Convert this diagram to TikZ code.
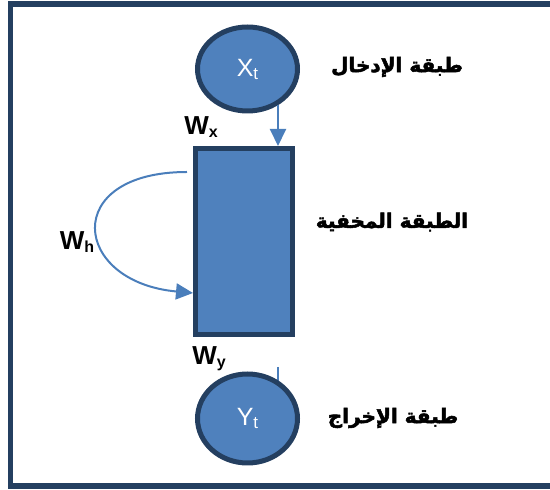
\documentclass[tikz,border=0pt]{standalone}
\usepackage{fontspec}
\setmainfont{Liberation Sans}
\newfontfamily\arabicfont[Script=Arabic,BoldFeatures={FakeBold=2.5}]{DejaVu Sans}
\TeXXeTstate=1
\usetikzlibrary{shapes.geometric,arrows.meta,calc}
\definecolor{fillblue}{HTML}{4F81BD}
\definecolor{edgenavy}{HTML}{243F60}
\definecolor{arrblue}{HTML}{4A7EBB}
\tikzset{
  layer/.style={ellipse, draw=edgenavy, fill=fillblue, line width=5pt, minimum width=100pt, inner sep=0pt, text=white, font=\fontsize{25}{27}\selectfont},
  hidden/.style={rectangle, draw=edgenavy, fill=fillblue, line width=5pt, minimum width=97pt, minimum height=186pt, inner sep=0pt},
  conn/.style={draw=arrblue, line width=2pt, -{Triangle[length=17pt,width=16pt]}},
  plain/.style={draw=arrblue, line width=2pt},
  wlabel/.style={font=\bfseries\fontsize{26}{28}\selectfont, inner sep=0pt},
  artext/.style={font=\arabicfont\bfseries\fontsize{20}{24}\selectfont, inner sep=0pt},
  frame/.style={draw=edgenavy, line width=5.5pt}
}
\begin{document}
\begin{tikzpicture}[x=1pt,y=1pt]
\useasboundingbox (0,0) rectangle (550,490);
\begin{scope}
\clip (0,0) rectangle (550,490);
\draw[frame] (10.5,486) rectangle (570,4);
\end{scope}
% input layer
\node[layer, minimum height=84pt] (xt) at (247.5,421) {X{\fontsize{17}{17}\selectfont\raisebox{-3pt}{t}}};
% hidden layer
\node[hidden] (rect) at (244,248.5) {};
% output connector stub
\coordinate (ya) at (278,123);
\coordinate (yb) at (278,100);
\draw[plain] (ya) -- (yb);
% output layer
\node[layer, minimum height=89pt] (yt) at (247.5,71.5) {Y{\fontsize{17}{17}\selectfont\raisebox{-3pt}{t}}};
% input arrow
\coordinate (xa) at (278,385);
\draw[conn] (xa) -- (xa |- rect.north);
% recurrent arrow
\coordinate (hs) at (187,318);
\draw[conn] (hs) .. controls (60,318) and (72,208) .. ($(rect.west)+(0,-51.5)$);
% weight labels
\node[wlabel] (wx) at (201,363) {W{\bfseries\fontsize{16}{16}\selectfont\raisebox{-3pt}{x}}};
\node[wlabel] (wh) at (77,248) {W{\bfseries\fontsize{16}{16}\selectfont\raisebox{-3pt}{h}}};
\node[wlabel] (wy) at (209,131) {W{\bfseries\fontsize{16}{16}\selectfont\raisebox{-3pt}{y}}};
% layer names
\node[artext] (tin) at (397,423) {\beginR طبقة الإدخال\endR};
\node[artext] (thid) at (392,268) {\beginR الطبقة المخفية\endR};
\node[artext] (tout) at (393,72) {\beginR طبقة الإخراج\endR};
\end{tikzpicture}
\end{document}
